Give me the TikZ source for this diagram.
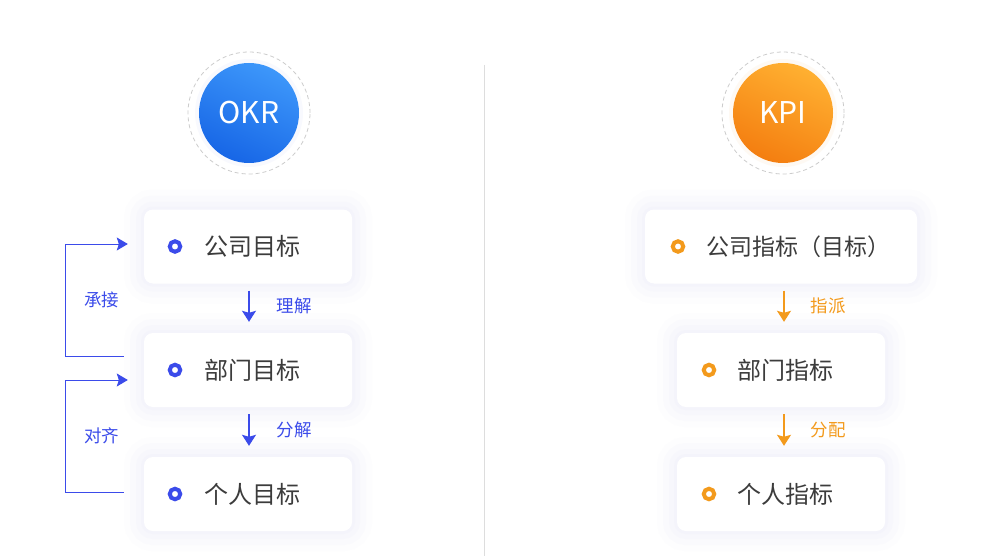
\documentclass[tikz,border=0pt]{standalone}
\usepackage{fontspec}
\setmainfont{Noto Sans CJK SC}
\usetikzlibrary{positioning,arrows.meta}

\definecolor{okrblue}{HTML}{3B4BEA}
\definecolor{okrlight}{HTML}{3D97FA}
\definecolor{okrdark}{HTML}{1766E6}
\definecolor{kpiorange}{HTML}{F39A1C}
\definecolor{kpilight}{HTML}{FFB031}
\definecolor{kpidark}{HTML}{F47E10}
\definecolor{textgray}{HTML}{3C3C3C}
\definecolor{shadowc}{HTML}{CDD2EE}
\definecolor{divgray}{HTML}{DDDDDD}

\tikzset{
  card/.style={fill=white, rounded corners=9pt, minimum height=74pt, inner sep=0pt,
    preaction={draw=shadowc, line width=40pt, draw opacity=0.04},
    preaction={draw=shadowc, line width=28pt, draw opacity=0.05},
    preaction={draw=shadowc, line width=16pt, draw opacity=0.05},
    preaction={draw=shadowc, line width=6pt, draw opacity=0.06}},
  dot/.style={circle, line width=4pt, minimum size=10.5pt, inner sep=0pt},
  cardtext/.style={anchor=west, inner sep=0pt, text=textgray, font=\fontsize{24}{26}\selectfont},
  flowlabel/.style={inner sep=0pt, font=\fontsize{17.5}{19}\selectfont},
  ring/.style={circle, fill=white, draw=gray!40, dash pattern=on 4pt off 3pt, line width=0.8pt, minimum size=122pt, inner sep=0pt},
  badge/.style={circle, minimum size=100pt, inner sep=0pt, text=white, font=\fontsize{30}{32}\selectfont},
  okrarrow/.style={draw=okrblue, line width=1.3pt, -{Stealth[length=11pt,width=14pt,inset=2pt]}},
  kpiarrow/.style={draw=kpiorange, line width=1.3pt, -{Stealth[length=11pt,width=14pt,inset=2pt]}},
  bracket/.style={draw=okrblue, line width=1pt, -{Stealth[length=11pt,width=13pt,inset=2pt]}},
  divider/.style={draw=divgray, line width=1pt}
}

\begin{document}
\begin{tikzpicture}[x=1pt,y=-1pt]
    \useasboundingbox[fill=white] (0,0) rectangle (1000,556);

    % Divider between the two halves
    \coordinate (divtop) at (484,65);
    \coordinate (divbot) at (484,556);
    \draw[divider] (divtop) -- (divbot);

    % OKR badge
    \node[ring] (okrring) at (249,113) {};
    \node[badge, top color=okrlight, bottom color=okrdark, shading angle=-25,
          preaction={draw=okrblue, line width=8pt, draw opacity=0.03}] (okr) at (249,113) {OKR};

    % KPI badge
    \node[ring] (kpiring) at (783,113) {};
    \node[badge, top color=kpilight, bottom color=kpidark, shading angle=-25,
          preaction={draw=kpiorange, line width=8pt, draw opacity=0.05}] (kpi) at (783,113) {KPI};

    \foreach \name/\y/\txt in {okr1/246.5/公司目标, okr2/370/部门目标, okr3/494/个人目标} {
        % Card
        \node[card, minimum width=208pt] (\name) at (248,\y) {};
        % Ring dot
        \node[dot, draw=okrblue] (\name-dot) at (175,\y) {};
        % Card text
        \node[cardtext] (\name-text) at (204,\y) {\txt};
    }

    \node[card, minimum width=272pt] (kpi1) at (781,246.5) {};
    \node[dot, draw=kpiorange] (kpi1-dot) at (678,246.5) {};
    \node[cardtext, font=\fontsize{23}{25}\selectfont] (kpi1-text) at (706,246.5) {公司指标（目标）};

    \foreach \name/\y/\txt in {kpi2/370/部门指标, kpi3/494/个人指标} {
        % Card
        \node[card, minimum width=208pt] (\name) at (781,\y) {};
        % Ring dot
        \node[dot, draw=kpiorange] (\name-dot) at (709,\y) {};
        % Card text
        \node[cardtext] (\name-text) at (737,\y) {\txt};
    }

    % Down arrows with labels
    \draw[okrarrow] ([xshift=1pt,yshift=-7pt]okr1.south) -- ([xshift=1pt,yshift=11pt]okr2.north)
        node[flowlabel, text=okrblue, midway, right=27pt] {理解};
    \draw[okrarrow] ([xshift=1pt,yshift=-7pt]okr2.south) -- ([xshift=1pt,yshift=11pt]okr3.north)
        node[flowlabel, text=okrblue, midway, right=27pt] {分解};
    \draw[kpiarrow] ([xshift=3pt,yshift=-7pt]kpi1.south) -- ([xshift=3pt,yshift=11pt]kpi2.north)
        node[flowlabel, text=kpiorange, midway, right=26pt] {指派};
    \draw[kpiarrow] ([xshift=3pt,yshift=-7pt]kpi2.south) -- ([xshift=3pt,yshift=11pt]kpi3.north)
        node[flowlabel, text=kpiorange, midway, right=26pt] {分配};

    % Side brackets
    \draw[bracket] ([xshift=-20pt,yshift=14pt]okr2.west) -- ++(-58,0)
        |- node[flowlabel, text=okrblue, pos=0.25, right=18pt] {承接} ([xshift=-16pt,yshift=2.5pt]okr1.west);
    \draw[bracket] ([xshift=-20pt,yshift=2pt]okr3.west) -- ++(-58,0)
        |- node[flowlabel, text=okrblue, pos=0.25, right=18pt] {对齐} ([xshift=-16pt,yshift=-10pt]okr2.west);
\end{tikzpicture}
\end{document}
